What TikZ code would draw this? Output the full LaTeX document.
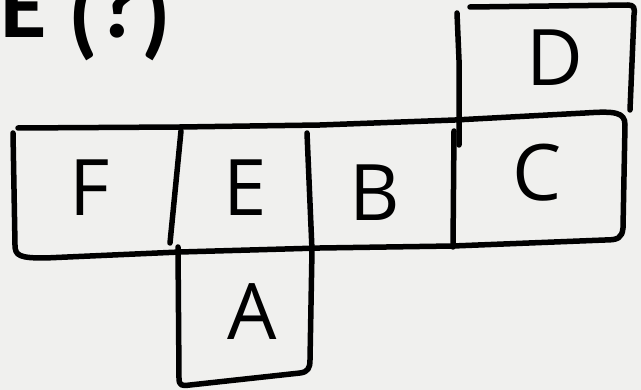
\documentclass[tikz,border=0pt]{standalone}
\usepackage{fontspec}
\setmainfont{Open Sans}
\newfontfamily\titlefont{Carlito}
\definecolor{bg}{RGB}{240,240,238}
\begin{document}
\begin{tikzpicture}[x=1pt,y=-1pt,
  ink/.style={line width=5.5pt,line cap=round,line join=round},
  letter/.style={font=\fontsize{78}{80}\selectfont,inner sep=0pt}]
\fill[bg] (0,0) rectangle (641,390);
\useasboundingbox (0,0) rectangle (641,390);
\clip (0,0) rectangle (641,390);
\node[anchor=base west,inner sep=0pt,font=\titlefont\bfseries\fontsize{95}{98}\selectfont] (title) at (0,38) {E \raisebox{-9pt}{(}?\raisebox{-9pt}{)}};
% strip
\draw[ink] (18,128) -- (180,127) -- (320,125) -- (455,120) -- (585,113)
  .. controls (615,111) and (625,112) .. (625,125) -- (623,228)
  .. controls (622,238) and (618,240) .. (605,240) -- (453,246) -- (320,248)
  -- (180,252) -- (45,258) .. controls (20,258) and (15,256) .. (15,245) -- (13,133);
\draw[ink] (181,131) -- (170,243);
\draw[ink] (178,247) -- (179,378) .. controls (179,386) and (182,386) .. (190,385)
  -- (300,373) .. controls (308,372) and (310,368) .. (310,360) -- (312,250) -- (307,133);
\draw[ink] (454,131) -- (453,247);
% D square
\draw[ink] (459,145) -- (459,60) -- (457,13);
\draw[ink] (470,7) -- (628,5) .. controls (634,5) and (635,8) .. (634,15) -- (630,110);
% letters
\node[letter] (F) at (90,188) {F};
\node[letter] (E) at (245,188) {E};
\node[letter] (B) at (375,193) {B};
\node[letter] (C) at (537,173) {C};
\node[letter] (D) at (555,58) {D};
\node[letter] (A) at (252,312) {A};
\end{tikzpicture}
\end{document}
